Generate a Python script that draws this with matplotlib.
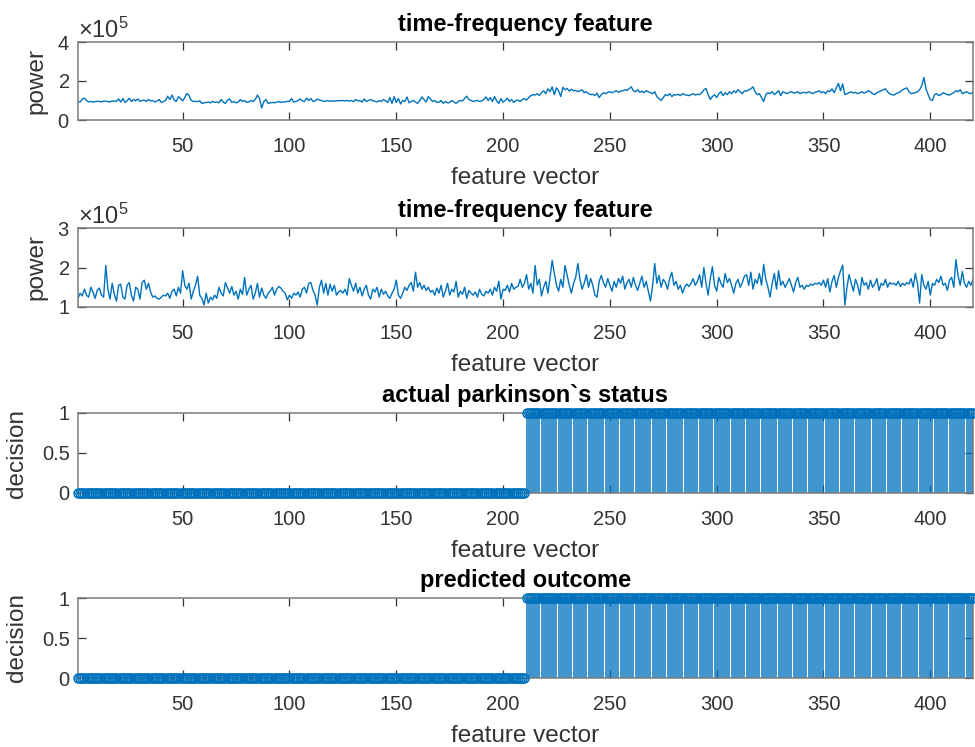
import numpy as np
import matplotlib
matplotlib.use('Agg')
import matplotlib.pyplot as plt
from matplotlib.ticker import ScalarFormatter

plt.rcParams['font.family'] = ['Liberation Sans', 'DejaVu Sans']
plt.rcParams['mathtext.fontset'] = 'custom'
plt.rcParams['mathtext.rm'] = 'Liberation Sans'
plt.rcParams['mathtext.it'] = 'Liberation Sans:italic'

# ---------------- data (power in units of 1e5) ----------------
feature_index = np.arange(1, 421)

power1_e5 = [
    0.95, 0.92, 1.08, 1.12, 1.0, 0.93, 0.95, 0.92, 0.94, 0.96, 0.95, 0.93, 0.97, 0.96, 0.95, 0.92, 0.98, 0.97, 0.95, 1.08,
    0.92, 1.1, 0.9, 0.98, 1.12, 0.95, 1.05, 0.98, 1.08, 0.96, 1.0, 1.02, 0.95, 1.05, 0.98, 1.0, 0.92, 0.97, 1.05, 0.9,
    0.95, 1.0, 1.22, 1.05, 1.28, 1.02, 0.95, 1.2, 1.1, 0.98, 1.15, 1.36, 1.25, 1.0, 0.95, 0.96, 0.94, 0.98, 0.85, 0.88,
    0.9, 0.92, 0.88, 0.95, 0.9, 0.93, 0.88, 1.05, 0.92, 0.85, 1.02, 1.08, 0.9, 0.95, 0.88, 0.92, 1.05, 0.95, 1.0, 0.9,
    0.93, 1.0, 0.95, 1.05, 1.28, 1.1, 0.62, 0.95, 1.05, 0.85, 0.88, 0.9, 0.88, 0.92, 0.95, 0.9, 0.93, 0.92, 0.96, 0.95,
    1.1, 0.92, 0.95, 1.0, 1.08, 0.98, 0.95, 1.12, 1.0, 1.1, 0.95, 0.98, 1.08, 1.02, 1.0, 0.95, 0.97, 1.0, 0.96, 0.98,
    0.97, 0.98, 1.0, 0.99, 1.0, 0.98, 1.0, 0.97, 1.0, 0.95, 1.05, 0.98, 1.0, 0.92, 1.08, 0.95, 1.0, 1.05, 0.98, 0.96,
    0.92, 1.0, 0.95, 1.05, 0.98, 0.9, 1.15, 0.85, 1.2, 0.9, 1.1, 0.82, 1.0, 0.95, 1.18, 0.88, 0.95, 1.0, 0.92, 0.85,
    1.0, 1.18, 1.05, 0.92, 1.2, 1.08, 0.95, 1.0, 0.9, 0.92, 1.0, 0.85, 0.95, 0.88, 0.9, 1.0, 0.92, 0.85, 0.95, 1.0,
    0.98, 1.1, 1.22, 1.05, 1.0, 0.95, 0.98, 1.0, 0.95, 0.98, 1.05, 1.18, 1.0, 1.15, 0.95, 1.2, 0.98, 0.85, 1.1, 0.92,
    1.0, 1.12, 0.95, 1.05, 0.9, 1.0, 1.02, 0.95, 1.05, 1.1, 1.02, 1.15, 1.25, 1.3, 1.28, 1.35, 1.25, 1.4, 1.5, 1.35,
    1.6, 1.45, 1.7, 1.3, 1.65, 1.5, 1.2, 1.68, 1.55, 1.62, 1.48, 1.58, 1.5, 1.52, 1.45, 1.5, 1.55, 1.4, 1.45, 1.35,
    1.3, 1.32, 1.25, 1.38, 1.15, 1.3, 1.4, 1.35, 1.42, 1.45, 1.4, 1.45, 1.5, 1.42, 1.48, 1.5, 1.55, 1.52, 1.6, 1.7,
    1.5, 1.45, 1.55, 1.42, 1.48, 1.4, 1.5, 1.45, 1.4, 1.35, 1.45, 1.2, 1.1, 1.0, 1.15, 1.3, 1.25, 1.35, 1.2, 1.3,
    1.28, 1.32, 1.25, 1.35, 1.3, 1.28, 1.25, 1.3, 1.35, 1.28, 1.32, 1.3, 1.4, 1.55, 1.62, 1.3, 1.05, 1.2, 1.3, 1.15,
    1.35, 1.45, 1.25, 1.4, 1.3, 1.45, 1.35, 1.5, 1.4, 1.55, 1.45, 1.35, 1.5, 1.48, 1.55, 1.6, 1.7, 1.45, 1.3, 1.35,
    1.15, 0.95, 1.3, 1.4, 1.35, 1.45, 1.3, 1.4, 1.5, 1.25, 1.45, 1.4, 1.35, 1.42, 1.45, 1.38, 1.4, 1.45, 1.35, 1.4,
    1.42, 1.38, 1.45, 1.4, 1.35, 1.42, 1.45, 1.5, 1.4, 1.45, 1.35, 1.5, 1.45, 1.6, 1.4, 1.65, 1.88, 1.5, 1.85, 1.3,
    1.35, 1.4, 1.45, 1.38, 1.42, 1.35, 1.4, 1.45, 1.38, 1.42, 1.5, 1.45, 1.35, 1.3, 1.4, 1.45, 1.5, 1.55, 1.6, 1.45,
    1.35, 1.3, 1.28, 1.35, 1.4, 1.45, 1.55, 1.6, 1.65, 1.45, 1.35, 1.38, 1.4, 1.45, 1.55, 1.75, 2.18, 1.6, 1.3, 1.05,
    1.0, 1.3, 1.35, 1.25, 1.3, 1.4, 1.35, 1.3, 1.28, 1.35, 1.4, 1.5, 1.45, 1.55, 1.35, 1.4, 1.45, 1.38, 1.35, 1.42,
]

power2_e5 = [
    1.22, 1.35, 1.28, 1.45, 1.3, 1.25, 1.5, 1.38, 1.22, 1.42, 1.48, 1.3, 1.25, 2.05, 1.45, 1.2, 1.6, 1.32, 1.15, 1.55,
    1.58, 1.25, 1.2, 1.55, 1.62, 1.3, 1.15, 1.5, 1.45, 1.2, 1.62, 1.68, 1.45, 1.6, 1.38, 1.25, 1.28, 1.22, 1.2, 1.25,
    1.3, 1.28, 1.35, 1.22, 1.4, 1.45, 1.28, 1.5, 1.35, 1.92, 1.55, 1.45, 1.6, 1.2, 1.4, 1.55, 1.78, 1.3, 1.22, 1.05,
    1.35, 1.1, 1.25, 1.18, 1.3, 1.22, 1.5, 1.35, 1.28, 1.62, 1.48, 1.35, 1.52, 1.3, 1.4, 1.2, 1.45, 1.32, 1.75, 1.3,
    1.45, 1.55, 1.2, 1.35, 1.6, 1.25, 1.48, 1.3, 1.22, 1.35, 1.4, 1.5, 1.3, 1.45, 1.52, 1.48, 1.4, 1.35, 1.18, 1.3,
    1.22, 1.35, 1.3, 1.38, 1.25, 1.45, 1.5, 1.35, 1.6, 1.62, 1.42, 1.3, 1.05, 1.5, 1.68, 1.35, 1.6, 1.3, 1.58, 1.4,
    1.55, 1.3, 1.38, 1.42, 1.35, 1.45, 1.3, 1.72, 1.55, 1.4, 1.6, 1.35, 1.5, 1.28, 1.45, 1.55, 1.3, 1.2, 1.45, 1.38,
    1.5, 1.25, 1.45, 1.32, 1.4, 1.28, 1.22, 1.35, 1.45, 1.68, 1.3, 1.22, 1.35, 1.5, 1.42, 1.55, 1.62, 1.4, 1.88, 1.5,
    1.62, 1.45, 1.55, 1.42, 1.5, 1.38, 1.42, 1.3, 1.48, 1.35, 1.55, 1.25, 1.4, 1.6, 1.3, 1.45, 1.38, 1.65, 1.25, 1.4,
    1.32, 1.5, 1.22, 1.42, 1.35, 1.3, 1.38, 1.25, 1.45, 1.32, 1.28, 1.4, 1.35, 1.45, 1.3, 1.5, 1.4, 1.65, 1.2, 1.45,
    1.42, 1.55, 1.38, 1.6, 1.45, 1.5, 1.52, 1.7, 1.5, 1.6, 1.82, 1.45, 1.6, 1.35, 2.05, 1.55, 1.7, 1.28, 1.5, 1.65,
    1.35, 1.75, 2.18, 1.85, 1.55, 1.4, 1.7, 1.5, 2.05, 1.8, 1.55, 1.35, 1.6, 1.75, 2.1, 1.7, 1.45, 1.6, 1.82, 1.5,
    1.72, 1.55, 1.3, 1.25, 1.65, 1.8, 1.62, 1.5, 1.72, 1.55, 1.4, 1.65, 1.5, 1.72, 1.6, 1.78, 1.45, 1.62, 1.7, 1.5,
    1.75, 1.55, 1.42, 1.6, 1.78, 1.5, 1.65, 1.4, 1.15, 1.55, 2.1, 1.6, 1.8, 1.5, 1.7, 1.62, 1.45, 1.72, 1.88, 1.55,
    1.65, 1.45, 1.55, 1.35, 1.5, 1.58, 1.52, 1.6, 1.72, 1.55, 1.65, 1.82, 1.5, 2.0, 1.6, 1.3, 1.72, 2.02, 1.55, 1.4,
    1.75, 1.6, 1.5, 1.85, 1.62, 1.72, 1.55, 1.35, 1.6, 1.7, 1.5, 1.62, 1.78, 1.82, 1.55, 1.88, 1.45, 1.7, 1.6, 1.85,
    1.55, 2.08, 1.7, 1.5, 1.25, 1.6, 1.85, 1.45, 1.92, 1.55, 1.65, 1.5, 1.6, 1.72, 1.55, 1.38, 1.62, 1.75, 1.5, 1.55,
    1.45, 1.55, 1.52, 1.58, 1.55, 1.6, 1.58, 1.62, 1.55, 1.68, 1.5, 1.72, 1.38, 1.65, 1.8, 1.5, 1.75, 1.92, 2.06, 1.05,
    1.5, 1.82, 1.6, 1.4, 1.7, 1.55, 1.3, 1.75, 1.55, 1.62, 1.45, 1.68, 1.5, 1.58, 1.72, 1.42, 1.6, 1.55, 1.7, 1.5,
    1.62, 1.58, 1.6, 1.55, 1.65, 1.52, 1.6, 1.55, 1.62, 1.58, 1.72, 1.5, 1.85, 1.6, 1.1, 1.82, 1.55, 1.45, 1.65, 1.3,
    1.6, 1.55, 1.7, 1.62, 1.78, 1.55, 1.6, 1.42, 1.68, 1.75, 1.5, 2.2, 1.8, 1.55, 1.9, 1.6, 1.5, 1.65, 1.55, 1.7,
]

power1 = np.array(power1_e5) * 1e5
power2 = np.array(power2_e5) * 1e5

n_healthy = 210
n_parkinson = 210
actual_status = np.r_[np.zeros(n_healthy), np.ones(n_parkinson)]
predicted_outcome = np.r_[np.zeros(n_healthy), np.ones(n_parkinson)]

xticks = [50, 100, 150, 200, 250, 300, 350, 400]

# ---------------- style ----------------
BLUE = '#0072BD'
TXT = '#333333'
SPINE = '#7a7a7a'
TICK_FS = 14.5
LABEL_FS = 17.5
TITLE_FS = 17

fig = plt.figure(figsize=(9.75, 7.47), dpi=100)

left = 78 / 975
width = 895 / 975
rects = [
    (left, 1 - 120 / 747, width, 78 / 747),
    (left, 1 - 307 / 747, width, 79 / 747),
    (left, 1 - 493 / 747, width, 80 / 747),
    (left, 1 - 678 / 747, width, 80 / 747),
]
axes = [fig.add_axes(r) for r in rects]


def style(ax, title, ylabel):
    ax.set_xlim(1, 420)
    ax.set_xticks(xticks)
    for s in ax.spines.values():
        s.set_color(SPINE)
        s.set_linewidth(1.1)
    ax.tick_params(direction='in', length=6, width=0.9, color=TXT,
                   top=True, right=True, labelsize=TICK_FS, labelcolor=TXT)
    ax.tick_params(axis='x', pad=12)
    ax.tick_params(axis='y', pad=6)
    ax.set_title(title, fontsize=TITLE_FS, fontweight='bold', color='black', pad=8)
    ax.set_xlabel('feature vector', fontsize=LABEL_FS, color=TXT, labelpad=8)
    ax.set_ylabel(ylabel, fontsize=LABEL_FS, color=TXT)


def sci(ax):
    f = ScalarFormatter(useMathText=True)
    f.set_useOffset(False)
    f.set_powerlimits((-3, 4))
    ax.yaxis.set_major_formatter(f)
    ax.yaxis.get_offset_text().set_fontsize(17)
    ax.yaxis.get_offset_text().set_color('#606060')


ax = axes[0]
ax.plot(feature_index, power1, color=BLUE, lw=1.0)
ax.set_ylim(0, 4e5)
ax.set_yticks([0, 2e5, 4e5])
sci(ax)
style(ax, 'time-frequency feature', 'power')

ax = axes[1]
ax.plot(feature_index, power2, color=BLUE, lw=1.0)
ax.set_ylim(1e5, 3e5)
ax.set_yticks([1e5, 2e5, 3e5])
sci(ax)
style(ax, 'time-frequency feature', 'power')


def stem(ax, y):
    ml, sl, bl = ax.stem(feature_index, y, basefmt=' ')
    ml.set_marker('o')
    ml.set_markersize(6.5)
    ml.set_markerfacecolor('none')
    ml.set_markeredgecolor(BLUE)
    ml.set_markeredgewidth(1.1)
    ml.set_clip_on(False)
    ml.set_zorder(3)
    sl.set_color(BLUE)
    sl.set_linewidth(1.25)
    sl.set_alpha(0.85)
    ax.set_ylim(0, 1)
    ax.set_yticks([0, 0.5, 1])
    ax.set_yticklabels(['0', '0.5', '1'])


stem(axes[2], actual_status)
style(axes[2], 'actual parkinson`s status', 'decision')
stem(axes[3], predicted_outcome)
style(axes[3], 'predicted outcome', 'decision')

for ax in axes[2:]:
    ax.yaxis.set_label_coords(-0.056, 0.5)
for ax in axes[:2]:
    ax.yaxis.set_label_coords(-0.034, 0.5)

fig.savefig('out.png', dpi=100)
